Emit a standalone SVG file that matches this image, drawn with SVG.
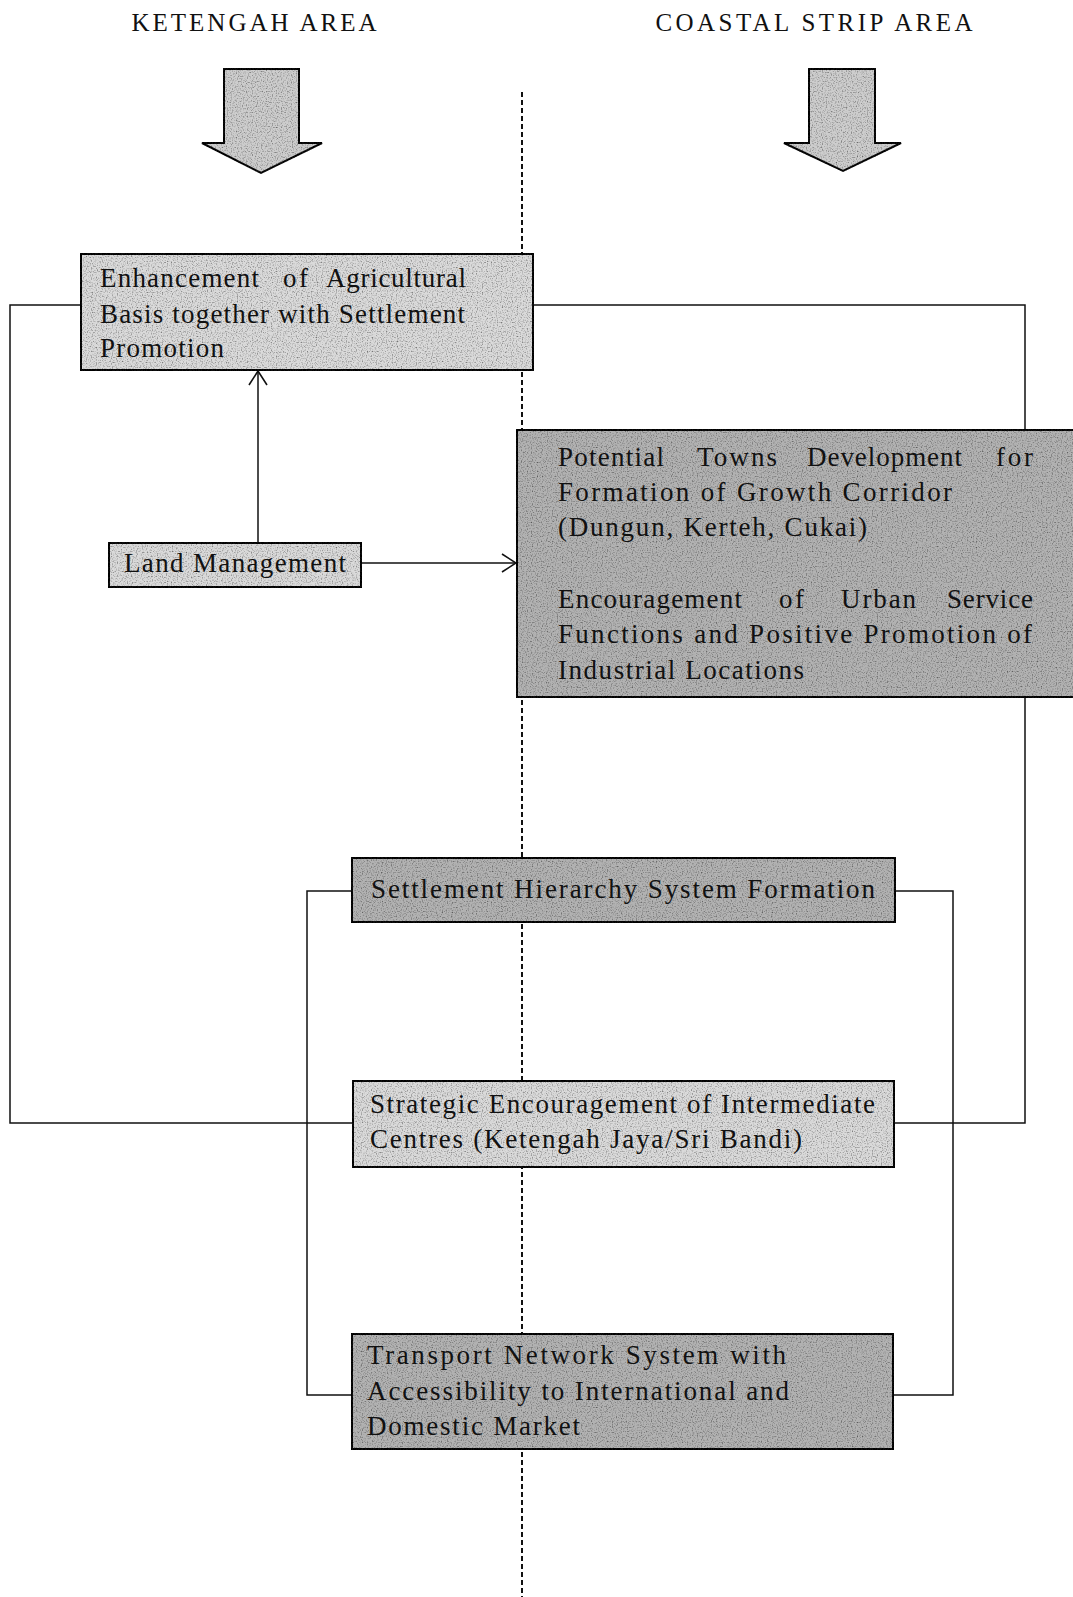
<svg xmlns="http://www.w3.org/2000/svg" width="1073" height="1597" viewBox="0 0 1073 1597">
<defs>
<style>
.t{font-family:"Liberation Serif","Times New Roman",serif;font-size:27px;fill:#111}
.h{font-family:"Liberation Serif","Times New Roman",serif;font-size:25px;fill:#111}
.light{fill:#dadada;stroke:#111;stroke-width:2;filter:url(#grain)}
.dark{fill:#b2b2b2;stroke:#111;stroke-width:2;filter:url(#grain)}
.big{fill:#cdcdcd;stroke:#111;stroke-width:2;filter:url(#grain)}
.ln{fill:none;stroke:#111;stroke-width:1.5}
.dash{fill:none;stroke:#111;stroke-width:2;stroke-dasharray:5 3}
</style>
<filter id="grain" x="-2%" y="-2%" width="104%" height="104%">
<feTurbulence type="fractalNoise" baseFrequency="0.8" numOctaves="1" seed="3" result="n"/>
<feColorMatrix in="n" type="matrix" values="0 0 0 0 0  0 0 0 0 0  0 0 0 0 0  2.2 0 0 0 -1.05" result="dots"/>
<feComposite in="dots" in2="SourceGraphic" operator="in" result="specks"/>
<feMerge><feMergeNode in="SourceGraphic"/><feMergeNode in="specks"/></feMerge>
</filter>
<marker id="open" viewBox="0 0 16 20" refX="15" refY="10" markerWidth="16" markerHeight="20" markerUnits="userSpaceOnUse" orient="auto">
<path d="M1,1 L15,10 L1,19" fill="none" stroke="#111" stroke-width="1.6"/>
</marker>
</defs>
<rect width="1073" height="1597" fill="#fff"/>
<g id="titles">
<text class="h" x="254" y="31" text-anchor="middle" textLength="245" lengthAdjust="spacing">KETENGAH AREA</text>
<text class="h" x="814" y="31" text-anchor="middle" textLength="317" lengthAdjust="spacing">COASTAL STRIP AREA</text>
</g>
<g id="divider">
<line class="dash" x1="522" y1="92" x2="522" y2="1597"/>
</g>
<g id="arrow-ketengah">
<path class="big" d="M224,69 L299,69 L299,143 L322,143 L261,173 L202,143 L224,143 Z"/>
</g>
<g id="arrow-coastal">
<path class="big" d="M809,69 L875,69 L875,143 L901,143 L843,171 L784,143 L809,143 Z"/>
</g>
<g id="connectors">
<polyline class="ln" points="81,305 10,305 10,1123 353,1123"/>
<polyline class="ln" points="533,305 1025,305 1025,430"/>
<polyline class="ln" points="1025,697 1025,1123 894,1123"/>
<polyline class="ln" points="352,891 307,891 307,1395 352,1395"/>
<polyline class="ln" points="895,891 953,891 953,1395 893,1395"/>
<line class="ln" x1="258" y1="543" x2="258" y2="371" marker-end="url(#open)"/>
<line class="ln" x1="361" y1="563" x2="516" y2="563" marker-end="url(#open)"/>
</g>
<g id="node-agri">
<rect class="light" x="81" y="254" width="452" height="116"/>
<text class="t" y="287"><tspan x="100" textLength="159" lengthAdjust="spacing">Enhancement</tspan><tspan x="283" textLength="25" lengthAdjust="spacing">of</tspan><tspan x="326" textLength="140" lengthAdjust="spacing">Agricultural</tspan></text>
<text class="t" x="100" y="323" textLength="365" lengthAdjust="spacing">Basis together with Settlement</text>
<text class="t" x="100" y="357" textLength="124" lengthAdjust="spacing">Promotion</text>
</g>
<g id="node-land">
<rect class="light" x="109" y="543" width="252" height="44"/>
<text class="t" x="124" y="572" textLength="222" lengthAdjust="spacing">Land Management</text>
</g>
<g id="node-towns">
<rect class="dark" x="517" y="430" width="560" height="267"/>
<text class="t" y="466"><tspan x="558" textLength="106" lengthAdjust="spacing">Potential</tspan><tspan x="697" textLength="80" lengthAdjust="spacing">Towns</tspan><tspan x="807" textLength="155" lengthAdjust="spacing">Development</tspan><tspan x="996" textLength="37" lengthAdjust="spacing">for</tspan></text>
<text class="t" x="558" y="501" textLength="394" lengthAdjust="spacing">Formation of Growth Corridor</text>
<text class="t" x="558" y="536" textLength="309" lengthAdjust="spacing">(Dungun, Kerteh, Cukai)</text>
<text class="t" y="608"><tspan x="558" textLength="184" lengthAdjust="spacing">Encouragement</tspan><tspan x="779" textLength="25" lengthAdjust="spacing">of</tspan><tspan x="841" textLength="75" lengthAdjust="spacing">Urban</tspan><tspan x="947" textLength="86" lengthAdjust="spacing">Service</tspan></text>
<text class="t" x="558" y="643" textLength="474" lengthAdjust="spacing">Functions and Positive Promotion of</text>
<text class="t" x="558" y="679" textLength="246" lengthAdjust="spacing">Industrial Locations</text>
</g>
<g id="node-hierarchy">
<rect class="dark" x="352" y="858" width="543" height="64"/>
<text class="t" x="371" y="898" textLength="504" lengthAdjust="spacing">Settlement Hierarchy System Formation</text>
</g>
<g id="node-intermediate">
<rect class="light" x="353" y="1081" width="541" height="86"/>
<text class="t" x="370" y="1113" textLength="505" lengthAdjust="spacing">Strategic Encouragement of Intermediate</text>
<text class="t" x="370" y="1148" textLength="432" lengthAdjust="spacing">Centres (Ketengah Jaya/Sri Bandi)</text>
</g>
<g id="node-transport">
<rect class="dark" x="352" y="1334" width="541" height="115"/>
<text class="t" x="367" y="1364" textLength="419" lengthAdjust="spacing">Transport Network System with</text>
<text class="t" x="367" y="1400" textLength="422" lengthAdjust="spacing">Accessibility to International and</text>
<text class="t" x="367" y="1435" textLength="213" lengthAdjust="spacing">Domestic Market</text>
</g>
</svg>
